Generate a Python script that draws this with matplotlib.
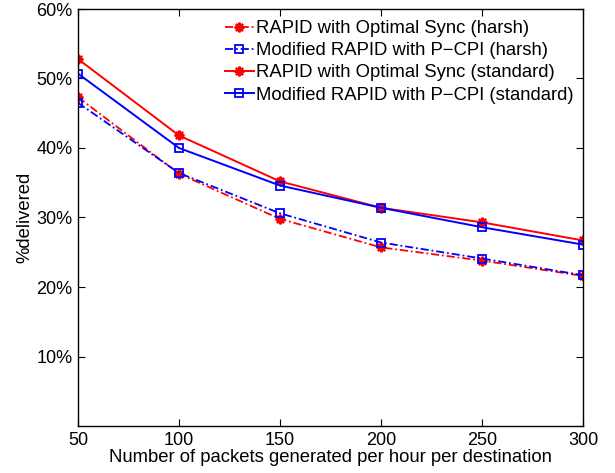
import matplotlib
matplotlib.use("Agg")
import matplotlib.pyplot as plt
from matplotlib.ticker import FuncFormatter

plt.rcParams['font.family'] = ['Liberation Sans', 'DejaVu Sans']

# packets per hour per destination
x_vals = [50, 100, 150, 200, 250, 300]

# % delivered
rapid_harsh = [47.3, 36.3, 29.8, 25.7, 23.8, 21.6]
pcpi_harsh = [46.5, 36.4, 30.6, 26.4, 24.1, 21.7]
rapid_std = [52.8, 41.8, 35.2, 31.4, 29.3, 26.7]
pcpi_std = [50.7, 40.0, 34.6, 31.4, 28.6, 26.1]

labels = [
    'RAPID with Optimal Sync (harsh)',
    'Modified RAPID with P\u2212CPI (harsh)',
    'RAPID with Optimal Sync (standard)',
    'Modified RAPID with P\u2212CPI (standard)',
]
y_ticks = [10, 20, 30, 40, 50, 60]

FS = 13.3
star = (8, 2, 0)  # matlab style asterisk
dashdot = (0, (4.5, 1.6, 1.0, 1.6))

fig = plt.figure(figsize=(6.15, 4.73), dpi=100)
ax = fig.add_axes([78 / 615, 47 / 473, 505 / 615, 417 / 473])

ax.plot(x_vals, rapid_harsh, color='red', linestyle=dashdot, marker=star,
        markersize=7, markeredgewidth=1.6, linewidth=1.3, label=labels[0])
ax.plot(x_vals, pcpi_harsh, color='blue', linestyle=dashdot, marker='s',
        markersize=5.5, markerfacecolor='none', markeredgewidth=1.3,
        linewidth=1.3, label=labels[1])
ax.plot(x_vals, rapid_std, color='red', linestyle='-', marker=star,
        markersize=7, markeredgewidth=1.6, linewidth=1.4, label=labels[2])
ax.plot(x_vals, pcpi_std, color='blue', linestyle='-', marker='s',
        markersize=5.5, markerfacecolor='none', markeredgewidth=1.3,
        linewidth=1.4, label=labels[3])

ax.set_xlim(50, 300)
ax.set_ylim(0, 60)
ax.set_xticks(x_vals)
ax.set_yticks(y_ticks)
ax.yaxis.set_major_formatter(FuncFormatter(lambda v, p: f"{v:.0f}%"))
ax.tick_params(direction='in', top=True, right=True, labelsize=13,
               length=5, pad=4)
for s in ax.spines.values():
    s.set_linewidth(1.0)

ax.set_xlabel('Number of packets generated per hour per destination',
              fontsize=FS, labelpad=0)
ax.set_ylabel('%delivered', fontsize=FS, labelpad=2)

# legend without box, nudged a bit down from the top right corner
leg = ax.legend(loc='upper right', frameon=False, fontsize=FS,
                handlelength=1.57, handletextpad=0.15, labelspacing=0.28,
                borderaxespad=0, bbox_to_anchor=(1 - 1.5 / 505, 1 - 3.7 / 417))

fig.savefig('out.png', dpi=100)
